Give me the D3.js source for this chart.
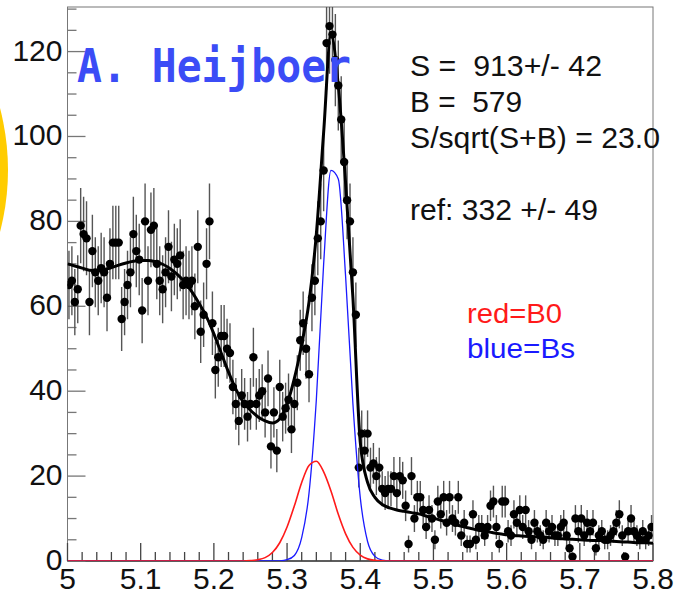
<!DOCTYPE html>
<html>
<head>
<meta charset="utf-8">
<script src="https://cdn.jsdelivr.net/npm/d3@7"></script>
<style>
  body { margin: 0; background: #fff; }
  svg { display: block; }
  text { font-family: "Liberation Sans", Arial, sans-serif; }
</style>
</head>
<body>
<svg id="chart" width="675" height="594"></svg>
<script>
// histogram: 200 bins of width 0.004 from 5.0 to 5.8
var binStart = 5.0;
var binWidth = 0.004;
var counts = [
  65, 66, 61, 64, 79, 77, 76, 61, 73, 68,
  66, 69, 68, 62, 70, 75, 75, 75, 57, 61,
  65, 68, 77, 73, 71, 59, 80, 66, 78, 79,
  70, 66, 64, 68, 74, 67, 71, 70, 72, 65,
  66, 65, 66, 60, 74, 54, 58, 70, 80, 56,
  45, 48, 53, 53, 50, 49, 41, 37, 33, 39,
  37, 34, 37, 48, 37, 39, 40, 35, 43, 27,
  35, 26, 41, 34, 36, 38, 31, 37, 42, 52,
  56, 50, 44, 62, 66, 76, 80, 92, 122, 126,
  124, 118, 112, 104, 94, 85, 80, 68, 58, 22,
  30, 26, 30, 22, 23, 20, 22, 17, 16, 17,
  17, 20, 16, 20, 19, 13, 4, 20, 10, 15,
  15, 12, 8, 12, 10, 5, 14, 11, 15, 9,
  15, 10, 9, 15, 6, 9, 4, 4, 11, 5,
  8, 8, 6, 8, 13, 14, 8, 4, 14, 14,
  7, 6, 11, 9, 12, 8, 12, 7, 5, 9,
  7, 6, 5, 9, 7, 8, 6, 6, 8, 9,
  6, 3, 1, 10, 7, 10, 6, 9, 7, 9,
  3, 6, 7, 5, 5, 6, 7, 9, 11, 6,
  1, 7, 10, 7, 6, 5, 7, 5, 6, 8
];

// fitted functions, read every 0.01 from 5.00 to 5.80
var fitStep = 0.01;
var fitTotal = [
  70, 69.5, 69, 68.5, 68.4, 68.6, 69.1, 69.7, 70.2, 70.6,
  70.8, 70.8, 70.5, 69.9, 68.9, 67.5, 65.7, 63.4, 60.6, 57.5,
  53.5, 49, 44.5, 40.5, 37.5, 35.5, 34, 33, 32.5, 33.5,
  37, 43, 51, 61, 77, 101, 124, 112, 89, 62,
  28, 18.5, 15, 13.3, 12.5, 12, 11.7, 11.4, 11.1, 10.6,
  10.1, 9.6, 9.1, 8.6, 8.1, 7.7, 7.3, 7.0, 6.7, 6.4,
  6.2, 6.0, 5.9, 5.8, 5.7, 5.6, 5.5, 5.3, 5.2, 5.1,
  5.0, 4.9, 4.8, 4.8, 4.7, 4.6, 4.5, 4.4, 4.3, 4.3,
  4.2
];
var fitB0 = [
  0, 0, 0, 0, 0, 0, 0, 0, 0, 0,
  0, 0, 0, 0, 0, 0, 0, 0, 0, 0,
  0, 0, 0, 0, 0, 0.1, 0.3, 0.8, 2, 4.3,
  8, 13, 18.5, 22.5, 23.5, 21, 16.5, 11, 6.4, 3.2,
  1.4, 0.5, 0.15, 0.04, 0, 0, 0, 0, 0, 0,
  0, 0, 0, 0, 0, 0, 0, 0, 0, 0,
  0, 0, 0, 0, 0, 0, 0, 0, 0, 0,
  0, 0, 0, 0, 0, 0, 0, 0, 0, 0,
  0
];
var fitBs = [
  0, 0, 0, 0, 0, 0, 0, 0, 0, 0,
  0, 0, 0, 0, 0, 0, 0, 0, 0, 0,
  0, 0, 0, 0, 0, 0, 0, 0, 0, 0.05,
  0.3, 1.3, 5.5, 16, 38, 70, 92, 90, 67, 37,
  15, 4.6, 1.1, 0.2, 0, 0, 0, 0, 0, 0,
  0, 0, 0, 0, 0, 0, 0, 0, 0, 0,
  0, 0, 0, 0, 0, 0, 0, 0, 0, 0,
  0, 0, 0, 0, 0, 0, 0, 0, 0, 0,
  0
];

var xTicks = [5, 5.1, 5.2, 5.3, 5.4, 5.5, 5.6, 5.7, 5.8];
var yTicks = [0, 20, 40, 60, 80, 100, 120];
var statLines = ["S =  913+/- 42", "B =  579", "S/sqrt(S+B) = 23.0", "", "ref: 332 +/- 49"];
var statWidths = [192, 112, 250, 0, 188];
var legendLines = ["red=B0", "blue=Bs"];
var legendColors = ["#ff1a1a", "#1a1aff"];
var legendWidths = [95, 108];

var svg = d3.select("#chart");

// the plot frame
var frameL = 67.5, frameR = 653, frameT = 7, frameB = 561;
var x = d3.scaleLinear().domain([5, 5.8]).range([frameL, frameR]);
var y = d3.scaleLinear().domain([0, 130.5]).range([frameB, frameT]);

// yellow decoration peeking in from the slide edge
svg.append("circle")
    .attr("cx", -236)
    .attr("cy", 170)
    .attr("r", 244)
    .attr("fill", "#ffcc00");

svg.append("defs").append("clipPath").attr("id", "frame")
  .append("rect")
    .attr("x", frameL)
    .attr("y", frameT)
    .attr("width", frameR - frameL)
    .attr("height", frameB - frameT);

svg.append("rect")
    .attr("x", frameL)
    .attr("y", frameT)
    .attr("width", frameR - frameL)
    .attr("height", frameB - frameT)
    .attr("fill", "#fff")
    .attr("stroke", "#777")
    .attr("stroke-width", 1);

svg.append("line")
    .attr("x1", frameL).attr("x2", frameR)
    .attr("y1", frameB).attr("y2", frameB)
    .attr("stroke", "#000")
    .attr("stroke-width", 1.2);

// y ticks every 5, long ones on the labelled values
var yAll = d3.range(0, 131, 5);
svg.append("g").selectAll("line").data(yAll).enter().append("line")
    .attr("x1", frameL)
    .attr("x2", d => frameL + (d % 20 === 0 ? 18 : 9))
    .attr("y1", d => y(d))
    .attr("y2", d => y(d))
    .attr("stroke", "#777")
    .attr("stroke-width", 1.3);

svg.append("g").selectAll("text").data(yTicks).enter().append("text")
    .attr("x", frameL - 5)
    .attr("y", d => y(d) + 9)
    .attr("text-anchor", "end")
    .attr("font-size", "30px")
    .attr("fill", "#111")
    .text(d => d);

// x ticks every 0.02
var xAll = d3.range(0, 41).map(i => 5 + i * 0.02);
svg.append("g").selectAll("line").data(xAll).enter().append("line")
    .attr("x1", d => x(d))
    .attr("x2", d => x(d))
    .attr("y1", frameB)
    .attr("y2", (d, i) => frameB - (i % 5 === 0 ? 18 : 9))
    .attr("stroke", "#444")
    .attr("stroke-width", 1.3);

svg.append("g").selectAll("text").data(xTicks).enter().append("text")
    .attr("x", d => x(d))
    .attr("y", 589)
    .attr("text-anchor", "middle")
    .attr("font-size", "30px")
    .attr("fill", "#111")
    .text(d => d);

// histogram with sqrt(N) errors
var bins = counts.map((c, i) => ({ lo: binStart + i * binWidth, n: c }));
var hist = svg.append("g").attr("clip-path", "url(#frame)");

hist.selectAll("line.err").data(bins).enter().append("line")
    .attr("class", "err")
    .attr("x1", d => x(d.lo + binWidth / 2))
    .attr("x2", d => x(d.lo + binWidth / 2))
    .attr("y1", d => y(d.n - Math.sqrt(d.n)))
    .attr("y2", d => y(d.n + Math.sqrt(d.n)))
    .attr("stroke", "#555")
    .attr("stroke-width", 1.4);

hist.selectAll("line.bin").data(bins).enter().append("line")
    .attr("class", "bin")
    .attr("x1", d => x(d.lo) - 0.5)
    .attr("x2", d => x(d.lo + binWidth) + 0.5)
    .attr("y1", d => y(d.n))
    .attr("y2", d => y(d.n))
    .attr("stroke", "#000")
    .attr("stroke-width", 2.5);

hist.selectAll("circle").data(bins).enter().append("circle")
    .attr("cx", d => x(d.lo + binWidth / 2))
    .attr("cy", d => y(d.n))
    .attr("r", 4.2)
    .attr("fill", "#000");

// fit curves
var fitLine = d3.line()
    .x((d, i) => x(5 + i * fitStep))
    .y(d => y(d))
    .curve(d3.curveMonotoneX);

var curves = svg.append("g").attr("clip-path", "url(#frame)");

curves.append("path")
    .attr("d", fitLine(fitTotal))
    .attr("fill", "none")
    .attr("stroke", "#000")
    .attr("stroke-width", 3);

curves.append("path")
    .attr("d", fitLine(fitBs))
    .attr("fill", "none")
    .attr("stroke", "#1a1aff")
    .attr("stroke-width", 1.3);

curves.append("path")
    .attr("d", fitLine(fitB0))
    .attr("fill", "none")
    .attr("stroke", "#ff1a1a")
    .attr("stroke-width", 1.6);

// fit summary text
svg.append("g").selectAll("text").data(statLines).enter().append("text")
    .attr("x", 410)
    .attr("y", (d, i) => 76 + i * 36)
    .attr("font-size", "29px")
    .attr("fill", "#111")
    .style("white-space", "pre")
    .attr("textLength", (d, i) => statWidths[i] || null)
    .attr("lengthAdjust", "spacingAndGlyphs")
    .text(d => d);

svg.append("g").selectAll("text").data(legendLines).enter().append("text")
    .attr("x", 467)
    .attr("y", (d, i) => 323 + i * 35)
    .attr("font-size", "27px")
    .attr("fill", (d, i) => legendColors[i])
    .attr("textLength", (d, i) => legendWidths[i])
    .attr("lengthAdjust", "spacingAndGlyphs")
    .text(d => d);

// author stamp on top of everything
svg.append("text")
    .attr("x", 77)
    .attr("y", 82)
    .style("font-family", "'DejaVu Sans Mono', monospace")
    .attr("font-weight", "bold")
    .attr("font-size", "47px")
    .attr("fill", "#3b4cf6")
    .attr("textLength", 274)
    .attr("lengthAdjust", "spacingAndGlyphs")
    .text("A. Heijboer");
</script>
</body>
</html>
